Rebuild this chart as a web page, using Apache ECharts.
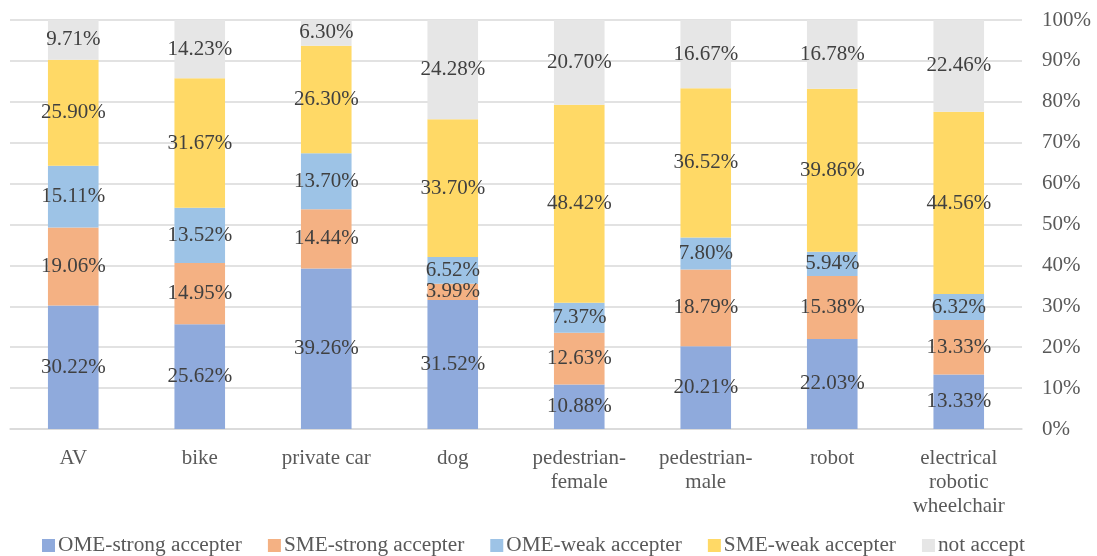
<!DOCTYPE html>
<html>
<head>
<meta charset="utf-8">
<script src="https://cdn.jsdelivr.net/npm/echarts@6/dist/echarts.min.js"></script>
<style>
  html, body { margin: 0; padding: 0; background: #ffffff; }
  #chart { width: 1097px; height: 556px; }
</style>
</head>
<body>
<div id="chart"></div>
<script>
// Categories along the x axis
const categories = ['AV', 'bike', 'private car', 'dog', 'pedestrian-\nfemale', 'pedestrian-\nmale', 'robot', 'electrical\nrobotic\nwheelchair'];

// Share of respondents (%) per acceptance group
const omeStrong = [30.22, 25.62, 39.26, 31.52, 10.88, 20.21, 22.03, 13.33];
const smeStrong = [19.06, 14.95, 14.44, 3.99, 12.63, 18.79, 15.38, 13.33];
const omeWeak   = [15.11, 13.52, 13.70, 6.52, 7.37, 7.80, 5.94, 6.32];
const smeWeak   = [25.90, 31.67, 26.30, 33.70, 48.42, 36.52, 39.86, 44.56];
const notAccept = [9.71, 14.23, 6.30, 24.28, 20.70, 16.67, 16.78, 22.46];

const seriesNames = ['OME-strong accepter', 'SME-strong accepter', 'OME-weak accepter', 'SME-weak accepter', 'not accept'];
const seriesData = [omeStrong, smeStrong, omeWeak, smeWeak, notAccept];
const seriesColors = ['#8FAADC', '#F4B183', '#9DC3E6', '#FFD966', '#E6E6E6'];

const fontFamily = '"Liberation Serif", "Times New Roman", serif';

const chart = echarts.init(document.getElementById('chart'), null, { renderer: 'canvas' });

chart.setOption({
  animation: false,
  textStyle: { fontFamily: fontFamily },
  grid: { left: 10, right: 75, top: 20, bottom: 127, containLabel: false },
  legend: {
    left: 37,
    top: 530,
    itemWidth: 13,
    itemHeight: 13,
    itemGap: 26,
    icon: 'rect',
    textStyle: { fontFamily: fontFamily, fontSize: 21.3, color: '#595959', padding: [0, 0, 0, -2] },
    data: seriesNames
  },
  xAxis: {
    type: 'category',
    data: categories,
    axisLine: { show: true, lineStyle: { color: '#D9D9D9', width: 1.5 } },
    axisTick: { show: false },
    axisLabel: {
      interval: 0,
      margin: 17,
      fontFamily: fontFamily,
      fontSize: 21,
      color: '#595959',
      lineHeight: 24
    }
  },
  yAxis: {
    type: 'value',
    position: 'right',
    min: 0,
    max: 100,
    interval: 10,
    axisLine: { show: false },
    axisTick: { show: false },
    splitLine: { lineStyle: { color: '#D9D9D9', width: 1.5 } },
    axisLabel: {
      formatter: '{value}%',
      margin: 20,
      align: 'left',
      fontFamily: fontFamily,
      fontSize: 21,
      color: '#595959'
    }
  },
  series: seriesNames.map((name, i) => ({
    name: name,
    type: 'bar',
    stack: 'total',
    barWidth: '40%',
    data: seriesData[i],
    itemStyle: { color: seriesColors[i] },
    label: {
      show: true,
      position: 'inside',
      formatter: p => p.value.toFixed(2) + '%',
      fontFamily: fontFamily,
      fontSize: 21,
      color: '#404040'
    }
  }))
});
</script>
</body>
</html>
